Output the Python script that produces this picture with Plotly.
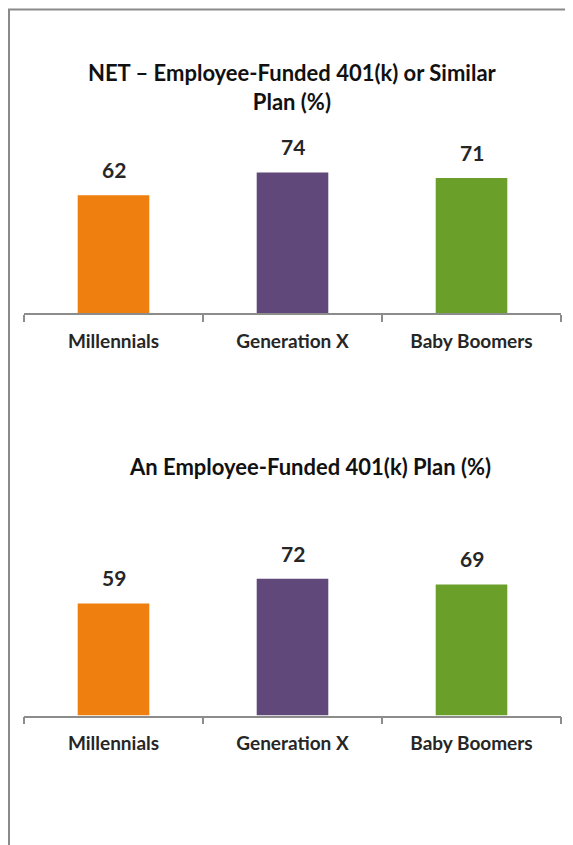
import plotly.graph_objects as go

categories = ["Millennials", "Generation X", "Baby Boomers"]
net_values = [62, 74, 71]
plan_values = [59, 72, 69]
bar_colors = ["#EF7F0E", "#60497A", "#6A9F2A"]
title_top = "NET – Employee-Funded 401(k) or Similar<br>Plan (%)"
title_bottom = "An Employee-Funded 401(k) Plan (%)"

# page body has an 8px margin; positions below are reference pixels minus 8
OFF = 8
W, H = 573 - OFF + 12, 845 - OFF
FONT = "Lato"
TXT = "#262626"

fig = go.Figure()
fig.add_trace(go.Bar(x=categories, y=net_values, marker=dict(color=bar_colors, line=dict(width=0)),
                     width=0.4, xaxis="x", yaxis="y", hoverinfo="skip"))
fig.add_trace(go.Bar(x=categories, y=plan_values, marker=dict(color=bar_colors, line=dict(width=0)),
                     width=0.4, xaxis="x2", yaxis="y2", hoverinfo="skip"))

def px(p):
    return (p - OFF) / W

def py(p):
    return 1 - (p - OFF) / H

xdom = [px(24), px(561)]
axis_x = dict(domain=xdom, showgrid=False, zeroline=False, showline=True, linecolor="#8c8c8c",
              linewidth=1.5, ticks="outside", tickson="boundaries", ticklen=7, tickcolor="#8c8c8c",
              tickwidth=1.5, tickfont=dict(family=FONT, size=19, color=TXT, weight="bold"),
              ticklabelstandoff=10, fixedrange=True)
axis_y = dict(range=[0, 100], visible=False, showgrid=False, zeroline=False, fixedrange=True)

fig.update_layout(
    width=W, height=H, margin=dict(l=0, r=0, t=0, b=0),
    paper_bgcolor="white", plot_bgcolor="white", showlegend=False, bargap=0.6,
    xaxis=dict(axis_x, anchor="y"),
    yaxis=dict(axis_y, domain=[py(313), py(123)], anchor="x"),
    xaxis2=dict(axis_x, anchor="y2"),
    yaxis2=dict(axis_y, domain=[py(715.5), py(525.5)], anchor="x2"),
)

annotations = []
for c, v in zip(categories, net_values):
    annotations.append(dict(x=c, y=v, xref="x", yref="y", text=f"<b>{v}</b>", showarrow=False,
                            yanchor="bottom", yshift=11, font=dict(family=FONT, size=21, color=TXT)))
for c, v in zip(categories, plan_values):
    annotations.append(dict(x=c, y=v, xref="x2", yref="y2", text=f"<b>{v}</b>", showarrow=False,
                            yanchor="bottom", yshift=11, font=dict(family=FONT, size=21, color=TXT)))
annotations.append(dict(x=px(292), y=py(87), xref="paper", yref="paper", text=f"<b>{title_top}</b>",
                        showarrow=False, xanchor="center", yanchor="middle",
                        font=dict(family=FONT, size=22, color="#111111")))
annotations.append(dict(x=px(310), y=py(466), xref="paper", yref="paper", text=f"<b>{title_bottom}</b>",
                        showarrow=False, xanchor="center", yanchor="middle",
                        font=dict(family=FONT, size=22, color="#111111")))
fig.update_layout(annotations=annotations)

fig.add_shape(type="rect", xref="paper", yref="paper", x0=px(9), x1=1.05, y0=-0.05, y1=py(9.5),
              line=dict(color="#8a8a8a", width=2), fillcolor="rgba(0,0,0,0)", layer="below")

fig.write_html("out.html")
